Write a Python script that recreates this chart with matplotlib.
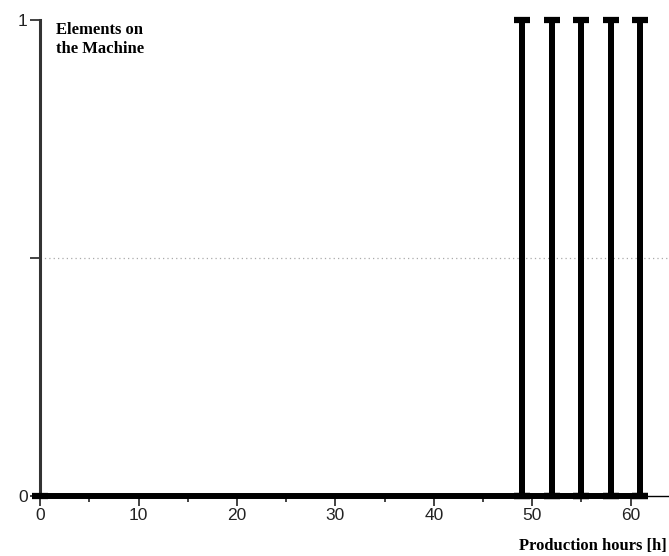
import matplotlib
matplotlib.use('Agg')
import matplotlib.pyplot as plt
from matplotlib.ticker import MultipleLocator

# ── DATA ──────────────────────────────────────────────────
# element count on the machine: 0 until first load, then short events
event_hours = [49, 52, 55, 58, 61]
event_level = [1, 1, 1, 1, 1]
start_hour  = 0
x_ticks     = [0, 10, 20, 30, 40, 50, 60]
y_ticks     = [0, 0.5, 1]
y_labels    = ['0', '', '1']

# build the step trace from the events
hours, elements = [start_hour], [0]
for h, v in zip(event_hours, event_level):
    hours    += [h, h, h]
    elements += [0, v, 0]

# ── PLOT ──────────────────────────────────────────────────
fig = plt.figure(figsize=(6.69, 5.56), dpi=100, facecolor='white')
ax = fig.add_axes([0.06, 0.108, 0.94, 0.856])

ax.axhline(0.5, color='#aaaaaa', lw=0.9, ls=(0, (1, 2.5)), zorder=1)
ax.plot(hours, elements, color='black', lw=4.3, solid_capstyle='butt',
        clip_on=False, zorder=3)
ax.plot(hours, elements, ls='none', marker='_', ms=11, mew=4.5,
        color='black', clip_on=False, zorder=4)

ax.set_xlim(0, 63.9)
ax.set_ylim(0, 1)
ax.set_xticks(x_ticks)
ax.xaxis.set_minor_locator(MultipleLocator(5))
ax.set_yticks(y_ticks)
ax.set_yticklabels(y_labels)

for s in ['top', 'right']:
    ax.spines[s].set_visible(False)
ax.spines['left'].set_color('#333333')
ax.spines['left'].set_linewidth(2.2)
ax.spines['bottom'].set_linewidth(1.0)

ax.tick_params(axis='both', which='major', length=7, width=1.2,
               labelsize=12.5, colors='#222222', pad=2)
ax.tick_params(axis='x', which='minor', length=4, width=1.2, colors='#222222')
for lab in ax.get_xticklabels() + ax.get_yticklabels():
    lab.set_family(['Liberation Sans', 'DejaVu Sans'])

ax.text(0.025, 0.995, 'Elements on\nthe Machine', transform=ax.transAxes,
        ha='left', va='top', fontsize=12, fontweight='bold',
        family=['Liberation Serif', 'DejaVu Serif'], linespacing=1.2)
fig.text(0.997, 0.004, 'Production hours [h]', ha='right', va='bottom',
         fontsize=12, fontweight='bold',
         family=['Liberation Serif', 'DejaVu Serif'])

plt.savefig('out.png', dpi=100, facecolor='white')
plt.close()
